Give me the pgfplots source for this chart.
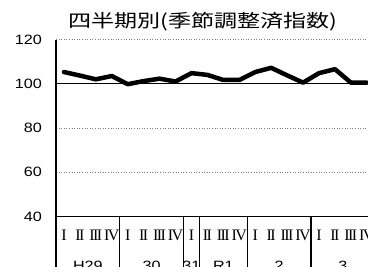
\documentclass[border=0pt]{standalone}
\usepackage{pgfplots}
\pgfplotsset{compat=1.18}
\usepackage{fontspec}
\newfontfamily\tickfont[FakeStretch=1.2]{Liberation Sans}
\newfontfamily\cjk[FakeStretch=1.28]{Noto Sans CJK JP}
\newfontfamily\rom[LetterSpace=-10]{Liberation Serif}
\begin{document}
\begin{tikzpicture}[x=1pt,y=1pt]
\begin{axis}[
  at={(56pt,50.5pt)}, anchor=south west,
  scale only axis, width=318.8pt, height=177pt,
  xmin=0, xmax=20, ymin=40, ymax=120,
  clip=false,
  axis x line*=bottom, axis y line*=left,
  axis line style={-, black, line width=1.2pt},
  major tick length=0pt,
  ytick={40,60,80,120},
  extra y ticks={100},
  extra y tick style={grid style={solid, black, line width=0.9pt}},
  ymajorgrids,
  grid style={gray, line width=0.8pt, dash pattern=on 0.8pt off 1.8pt},
  /pgf/number format/assume math mode=true,
  yticklabel style={font=\tickfont\fontsize{13.5}{14}\selectfont, anchor=east, inner sep=0pt, xshift=-14pt},
  xtick={0.5,1.5,...,19.5},
  xticklabels={I,II,III,IV,I,II,III,IV,I,II,III,IV,I,II,III,IV,I,II,III,IV},
  xticklabel style={font=\rom\fontsize{16}{16}\selectfont, anchor=center, inner sep=0pt, yshift=-19.2pt},
]
\addplot[black, line width=4.5pt, line join=round, line cap=round] coordinates {
(0.5,105.3) (1.5,103.7) (2.5,102.0) (3.5,103.5) (4.5,99.8) (5.5,101.2)
(6.5,102.3) (7.5,101.0) (8.5,104.8) (9.5,104.0) (10.5,101.7) (11.5,101.7)
(12.5,105.3) (13.5,107.2) (14.5,103.8) (15.5,100.5) (16.5,104.8) (17.5,106.6)
(18.5,100.5) (19.5,100.5)};
\foreach \s in {0,4,8,9,12,16}{
  \edef\tmp{\noexpand\draw[black, line width=1.3pt] (axis cs:\s,40) -- (axis cs:\s,10);}\tmp
}
\foreach \c/\t in {2/H29,6/30,8.5/31,10.5/R1,14/2,18/3}{
  \edef\tmp{\noexpand\node[font=\noexpand\tickfont\noexpand\fontsize{13.5}{14}\noexpand\selectfont, anchor=center, inner sep=0pt] at (axis cs:\c,17.6) {\t};}\tmp
}
\end{axis}
\node[font=\cjk\fontsize{18}{19}\selectfont, anchor=center] at (203,245) {四半期別(季節調整済指数)};
\pgfresetboundingbox
\useasboundingbox (0,0) rectangle (368,267);
\end{tikzpicture}
\end{document}
